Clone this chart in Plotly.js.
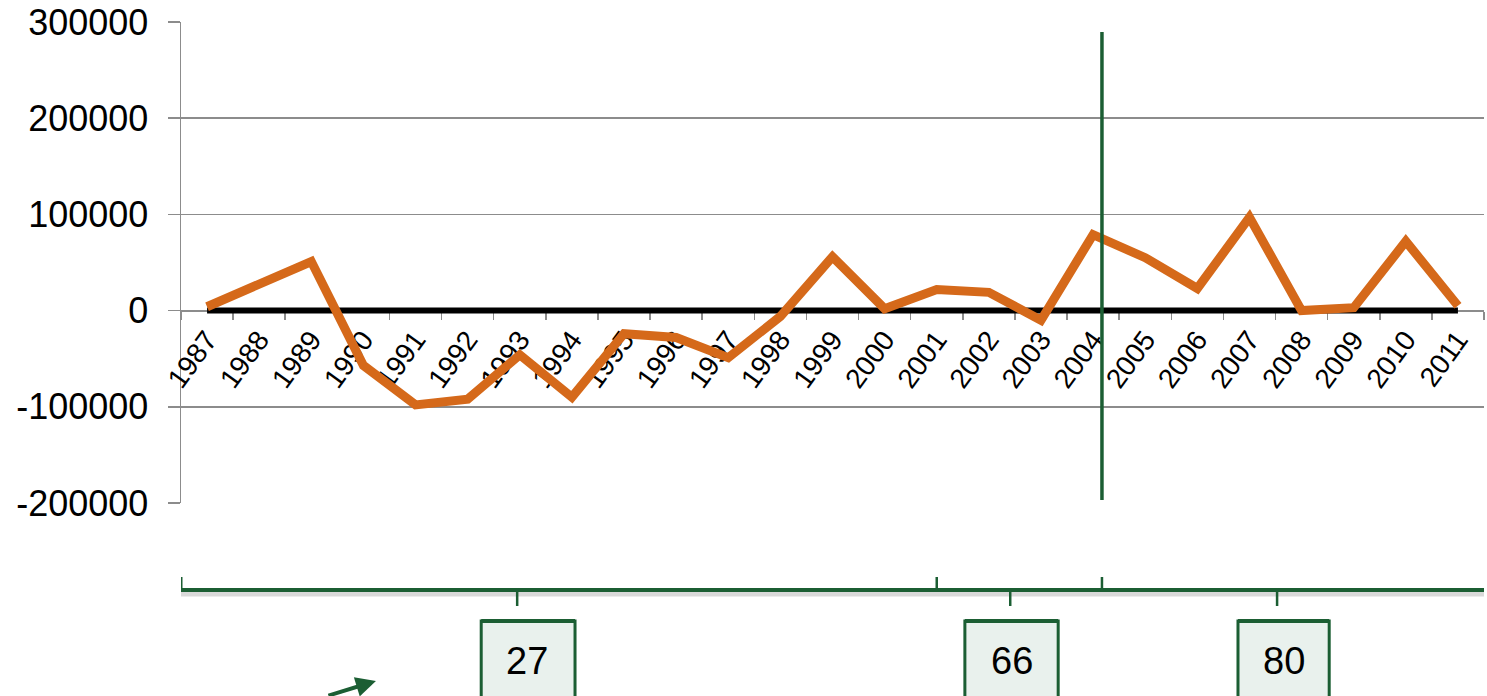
<!DOCTYPE html>
<html><head><meta charset="utf-8">
<script src="https://cdn.plot.ly/plotly-3.0.1.min.js"></script>
<style>html,body{margin:0;padding:0;background:#fff;}#c{width:1487px;height:696px;}</style>
</head><body><div id="c"></div>
<script>
const years = ['1987','1988','1989','1990','1991','1992','1993','1994','1995','1996','1997','1998','1999','2000','2001','2002','2003','2004','2005','2006','2007','2008','2009','2010','2011'];
const values = [4000,28000,51000,-57000,-98000,-92000,-46000,-90000,-24000,-28000,-49000,-6000,56000,2000,22000,19000,-10000,79000,55000,23000,97000,0,3000,72000,5000];
const baseline = years.map(()=>0);
const yTickVals = [-200000,-100000,0,100000,200000,300000];
const yTickText = ['-200000','-100000','0','100000','200000','300000'];
const boxLabels = ['27','66','80'];

const green = '#1b5e33';
const px = p => (p - 503) / -481; // helper: pixel row -> paper y

const traces = [
  {x: years, y: baseline, type:'scatter', mode:'lines', line:{color:'#000', width:6}, hoverinfo:'skip'},
  {x: years, y: values, type:'scatter', mode:'lines', line:{color:'#d5691a', width:9}, hoverinfo:'skip'}
];

const shapes = [];
const annotations = [];
shapes.push({type:'line', xref:'x', yref:'paper', x0:-0.5, x1:24.8, y0:px(594), y1:px(594), line:{color:'rgba(0,0,0,0.15)', width:5}});
shapes.push({type:'line', xref:'x', yref:'paper', x0:-0.5, x1:24.8, y0:px(590), y1:px(590), line:{color:green, width:4}});
shapes.push({type:'line', xref:'x', yref:'paper', x0:-0.5, x1:-0.5, y0:px(590), y1:px(577), line:{color:green, width:3}});
[14.0, 17.17].forEach(x=>shapes.push({type:'line', xref:'x', yref:'paper', x0:x, x1:x, y0:px(590), y1:px(577), line:{color:green, width:2.5}}));
[5.95, 15.41, 20.53].forEach(x=>shapes.push({type:'line', xref:'x', yref:'paper', x0:x, x1:x, y0:px(590), y1:px(606), line:{color:green, width:2.5}}));
shapes.push({type:'line', xref:'x', yref:'paper', x0:17.17, x1:17.17, y0:px(32), y1:px(500), line:{color:green, width:3.5}});
const boxes = [[5.26,7.06,6.14],[14.54,16.33,15.44],[19.78,21.53,20.66]];
boxes.forEach((b,i)=>{
  shapes.push({type:'rect', xref:'x', yref:'paper', x0:b[0], x1:b[1], y0:px(621), y1:px(705), fillcolor:'#e9f1ed', line:{color:green, width:3}});
  shapes.push({type:'line', xref:'x', yref:'paper', x0:b[0], x1:b[1], y0:px(621), y1:px(621), line:{color:green, width:4}});
  annotations.push({xref:'x', yref:'paper', x:b[2], y:px(661), text:boxLabels[i], showarrow:false, font:{family:'Liberation Sans, Arial', size:38, color:'#000'}, xanchor:'center', yanchor:'middle'});
});
annotations.push({xref:'x', yref:'paper', x:3.24, y:px(681), text:'', showarrow:true, arrowhead:2, arrowsize:1, arrowwidth:4, arrowcolor:green, ax:-49, ay:20, axref:'pixel', ayref:'pixel'});

const layout = {
  width:1487, height:696,
  margin:{l:181, r:3, t:22, b:193},
  paper_bgcolor:'#fff', plot_bgcolor:'#fff',
  showlegend:false,
  font:{family:'Liberation Sans, Arial', color:'#000'},
  xaxis:{type:'category', range:[-0.5,24.5], anchor:'free', position:0.4, showline:true, linecolor:'#8c8c8c', linewidth:1.5,
    ticks:'outside', tickson:'boundaries', ticklen:8, tickcolor:'#8c8c8c', tickwidth:1.5,
    showgrid:false, zeroline:false, tickangle:-54, tickfont:{size:28, color:'#000'}, layer:'below traces', fixedrange:true},
  yaxis:{range:[-200000,300000], tickmode:'array', tickvals:yTickVals, ticktext:yTickText, showline:true, linecolor:'#8c8c8c', linewidth:1.5,
    ticks:'outside', ticklen:12, tickcolor:'#8c8c8c', tickwidth:1.5, showgrid:true, gridcolor:'#8c8c8c', gridwidth:1.5,
    zeroline:false, tickfont:{size:36, color:'#000'}, ticklabelstandoff:12, layer:'below traces', fixedrange:true},
  shapes: shapes,
  annotations: annotations
};
Plotly.newPlot('c', traces, layout, {staticPlot:true, displayModeBar:false});
</script></body></html>
